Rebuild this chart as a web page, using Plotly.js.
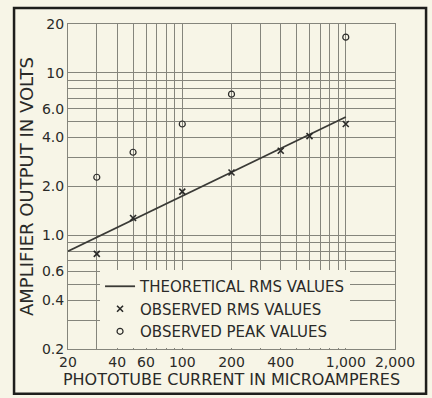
<!DOCTYPE html>
<html>
<head>
<meta charset="utf-8">
<script src="https://cdn.plot.ly/plotly-3.0.1.min.js"></script>
<style>
  html, body { margin: 0; padding: 0; background: #f7f5e7; }
  #chart { width: 432px; height: 398px; }
</style>
</head>
<body>
<div id="chart"></div>
<script>
// ---- data ----
const theoryCurrent = [20, 1000];            // microamperes
const theoryVolts   = [0.8, 5.35];           // theoretical RMS line end points

const rmsCurrent  = [30, 50, 100, 200, 400, 600, 1000];
const rmsVolts    = [0.77, 1.28, 1.86, 2.44, 3.32, 4.08, 4.85];

const peakCurrent = [30, 50, 100, 200, 1000];
const peakVolts   = [2.28, 3.25, 4.85, 7.4, 16.6];

const xTickVals  = [20, 40, 60, 100, 200, 400, 1000, 2000];
const xTickText  = ["20", "40", "60", "100", "200", "400", "1,000", "2,000"];
const xMinorVals = [30, 50, 70, 80, 90, 300, 500, 600, 700, 800, 900];

const yTickVals  = [0.2, 0.4, 0.6, 1, 2, 4, 6, 10, 20];
const yTickText  = ["0.2", "0.4", "0.6", "1.0", "2.0", "4.0", "6.0", "10", "20"];
const yMinorVals = [0.3, 0.5, 0.7, 0.8, 0.9, 3, 5, 7, 8, 9];

// ---- styling ----
const BG = "#f7f5e7";
const INK = "#2a2a28";
const GRID = "#85857c";
const FONT = "DejaVu Sans, sans-serif";

const traces = [
  {
    x: theoryCurrent, y: theoryVolts,
    mode: "lines", name: "THEORETICAL RMS VALUES",
    line: { color: "#3a3a36", width: 1.8 }
  },
  {
    x: rmsCurrent, y: rmsVolts,
    mode: "markers", name: "OBSERVED RMS VALUES",
    marker: { symbol: "x-thin-open", size: 6, color: INK, line: { color: INK, width: 1.6 } }
  },
  {
    x: peakCurrent, y: peakVolts,
    mode: "markers", name: "OBSERVED PEAK VALUES",
    marker: { symbol: "circle-open", size: 6, color: INK, line: { color: INK, width: 1.2 } }
  }
];

const layout = {
  width: 432, height: 398,
  margin: { l: 68, r: 37, t: 24, b: 49, pad: 0 },
  paper_bgcolor: BG, plot_bgcolor: BG,
  font: { family: FONT, color: INK, size: 14 },
  showlegend: true,
  legend: {
    x: 0.098, y: 0.243, xanchor: "left", yanchor: "top",
    xref: "paper", yref: "paper",
    bgcolor: BG, borderwidth: 0,
    font: { family: FONT, size: 15, color: INK },
    itemwidth: 30, tracegroupgap: 0
  },
  xaxis: {
    type: "log",
    range: [Math.log10(20), Math.log10(2000)],
    tickmode: "array", tickvals: xTickVals, ticktext: xTickText,
    ticks: "", showgrid: true, gridcolor: GRID, gridwidth: 1,
    minor: { tickmode: "array", tickvals: xMinorVals, showgrid: true, gridcolor: GRID, gridwidth: 1, ticks: "" },
    showline: true, mirror: true, linecolor: GRID, linewidth: 1,
    zeroline: false, tickfont: { family: FONT, size: 14, color: INK },
    title: { text: "PHOTOTUBE CURRENT IN MICROAMPERES", font: { family: FONT, size: 16, color: INK }, standoff: 4 }
  },
  yaxis: {
    type: "log",
    range: [Math.log10(0.2), Math.log10(20)],
    tickmode: "array", tickvals: yTickVals, ticktext: yTickText,
    ticks: "", showgrid: true, gridcolor: GRID, gridwidth: 1,
    minor: { tickmode: "array", tickvals: yMinorVals, showgrid: true, gridcolor: GRID, gridwidth: 1, ticks: "" },
    showline: true, mirror: true, linecolor: GRID, linewidth: 1,
    zeroline: false, tickfont: { family: FONT, size: 14, color: INK },
    title: { text: "AMPLIFIER OUTPUT IN VOLTS", font: { family: FONT, size: 18, color: INK }, standoff: 3 }
  },
  shapes: [
    {
      type: "rect", xref: "paper", yref: "paper",
      x0: -0.165, x1: 1.095, y0: -0.138, y1: 1.049,
      line: { color: "#1e1e1c", width: 2.5 }, fillcolor: "rgba(0,0,0,0)", layer: "above"
    }
  ]
};

Plotly.newPlot("chart", traces, layout, { displayModeBar: false, staticPlot: true });
</script>
</body>
</html>
